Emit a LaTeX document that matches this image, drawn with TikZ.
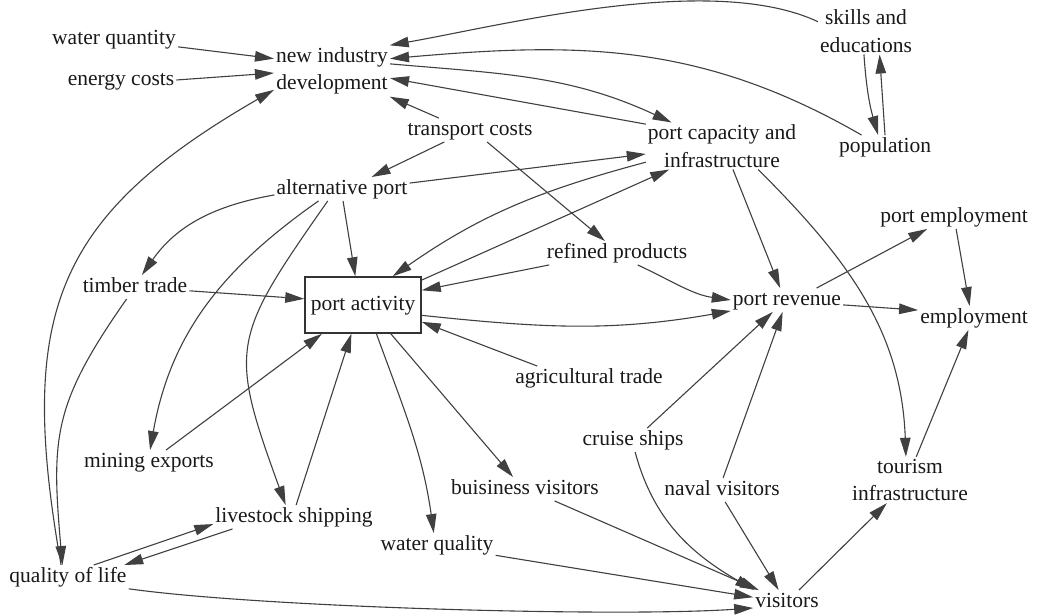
\documentclass[tikz,border=0pt]{standalone}
\usepackage{fontspec}
\setmainfont{Liberation Serif}
\usetikzlibrary{arrows.meta}
\begin{document}
\begin{tikzpicture}[x=1pt,y=1pt,
  every node/.style={text=black!90},
  var/.style={font=\fontsize{21.5}{27.5}\selectfont, inner sep=2pt, text height=15pt, text depth=4.5pt},
  var2/.style={font=\fontsize{21.5}{27.5}\selectfont, inner sep=2pt, align=center},
  stock/.style={var, draw=black!80, line width=1.5pt, minimum width=116pt, minimum height=56pt, inner sep=0pt},
  link/.style={draw=black!75, line width=1.1pt, -{Triangle[length=19pt,width=10.5pt]}},
]
\useasboundingbox[fill=white] (0,0) rectangle (1042,616);

% variables
\node[var]  (wq)  at (114,577) {water quantity};
\node[var]  (ec)  at (121,536) {energy costs};
\node[var2] (nid) at (332,545) {new industry\\development};
\node[var2] (ske) at (866,585) {skills and\\educations};
\node[var]  (pop) at (885,469) {population};
\node[var]  (tc)  at (470,486) {transport costs};
\node[var2] (pci) at (722,470) {port capacity and\\infrastructure};
\node[var]  (ap)  at (342,427) {alternative port};
\node[var]  (tt)  at (135,329) {timber trade};
\node[stock] (pa) at (363,311) {port activity};
\node[var]  (rp)  at (617,363) {refined products};
\node[var]  (pe)  at (954,399) {port employment};
\node[var]  (pr)  at (787,316) {port revenue};
\node[var]  (emp) at (974,298) {employment};
\node[var]  (agr) at (589,238) {agricultural trade};
\node[var]  (me)  at (149,154) {mining exports};
\node[var]  (cs)  at (633,176) {cruise ships};
\node[var]  (nv)  at (722,126) {naval visitors};
\node[var]  (bv)  at (525,127) {buisiness visitors};
\node[var2] (ti)  at (910,136) {tourism\\infrastructure};
\node[var]  (ls)  at (294,99)  {livestock shipping};
\node[var]  (wql) at (437,71)  {water quality};
\node[var]  (qol) at (68,39)   {quality of life};
\node[var]  (vis) at (787,14)  {visitors};

% causal links
\draw[link] (wq.-7) -- (nid.168);
\draw[link] (ec.east) -- (nid.182);
\draw[link] (qol.120) to[out=100,in=210,looseness=1.25] (nid.198);
\draw[link] (tt.235) to[out=235,in=95,looseness=1.2] (qol.115);
\draw[link] (ske.169) to[out=155,in=10,looseness=0.7] (nid.24);
\draw[link] (pop.153) to[out=150,in=5] (nid.12);
\draw[link] (nid.7) to[out=-5,in=155] (pci.155);
\draw[link] (pci.164) -- (nid.-7);
\draw[link] (tc.159) -- (nid.-24);
\draw[link] (tc.205) -- (ap.22);
\draw[link] (tc.-35) -- (rp.135);
\draw[link] (ap.5) -- (pci.186);
\draw[link] (pci.192) to[out=195,in=35] (pa.44);
\draw[link] (pa.23) -- (pci.204);
\draw[link] (rp.190) -- (pa.14);
\draw[link] (ap.-85) -- (pa.105);
\draw[link] (ap.185) to[out=190,in=55] (tt.60);
\draw[link] (ap.207) to[out=215,in=80] (me.85);
\draw[link] (ap.220) to[out=235,in=110,looseness=1.4] (ls.125);
\draw[link] (tt.-4) -- (pa.174);
\draw[link] (me.35) -- (pa.215);
\draw[link] (ls.80) -- (pa.248);
\draw[link] (pa.-65) to[out=-70,in=98] (wql.105);
\draw[link] (pa.-46) -- (bv.135);
\draw[link] (agr.167) -- (pa.-16);
\draw[link] (pa.-10) to[out=-6,in=190] (pr.191);
\draw[link] (rp.-30) to[out=-25,in=172] (pr.west);
\draw[link] (pci.-65) -- (pr.120);
\draw[link] (pci.-33) to[out=-45,in=92] (ti.100);
\draw[link] (pr.22) -- (pe.204);
\draw[link] (pr.-5) -- (emp.172);
\draw[link] (pe.-80) -- (emp.110);
\draw[link] (ti.75) -- (emp.245);
\draw[link] (cs.40) -- (pr.220);
\draw[link] (nv.85) -- (pr.250);
\draw[link] (cs.-80) to[out=-75,in=150] (vis.160);
\draw[link] (nv.-75) -- (vis.125);
\draw[link] (bv.-22) -- (vis.157);
\draw[link] (wql.-10) -- (vis.172);
\draw[link] (qol.-11) to[out=-8,in=184,looseness=0.55] (vis.190);
\draw[link] (vis.45) -- (ti.225);
\draw[link] (ske.265) to[bend right=6] (pop.120);
\draw[link] (pop.north) -- (ske.-60);
\draw[link] (qol.25) -- (ls.185);
\draw[link] (ls.191) -- (qol.12);
\end{tikzpicture}
\end{document}
